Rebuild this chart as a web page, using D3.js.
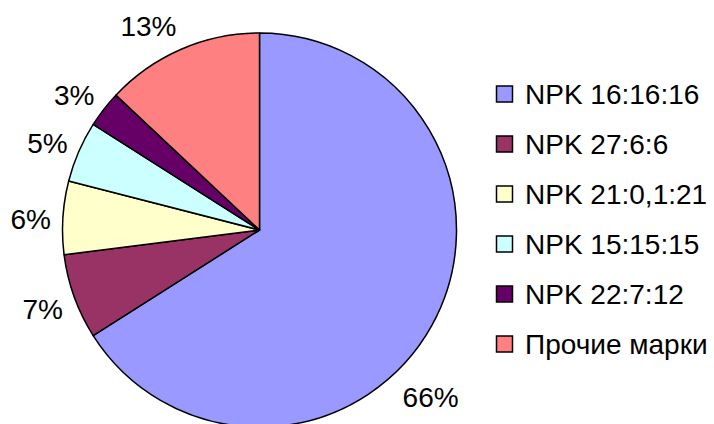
<!DOCTYPE html>
<html>
<head>
<meta charset="utf-8">
<script src="https://cdn.jsdelivr.net/npm/d3@7"></script>
<style>
  body { margin: 0; background: #fff; }
  text { font-family: "Liberation Sans", Arial, sans-serif; fill: #000; }
</style>
</head>
<body>
<div id="chart"></div>
<script>
// brands of NPK fertiliser and their share
var brands = ["NPK 16:16:16", "NPK 27:6:6", "NPK 21:0,1:21", "NPK 15:15:15", "NPK 22:7:12", "Прочие марки"];
var shares = [66, 7, 6, 5, 3, 13];
var colors = ["#9999ff", "#993366", "#ffffcc", "#ccffff", "#660066", "#ff8080"];

var width = 714,
    height = 424,
    cx = 259.5, cy = 230,
    radius = 197,
    labelRx = 209,  // horizontal distance of label edge
    labelRy = 225;  // vertical distance of label centre

var svg = d3.select("#chart").append("svg")
    .attr("width", width)
    .attr("height", height);

var pie = d3.pie().sort(null).value(function(d) { return d; });
var arcs = pie(shares);

var arc = d3.arc().innerRadius(0).outerRadius(radius);

var g = svg.append("g")
    .attr("transform", "translate(" + cx + "," + cy + ")");

g.selectAll("path")
    .data(arcs)
  .enter().append("path")
    .attr("d", arc)
    .attr("fill", function(d, i) { return colors[i]; })
    .attr("stroke", "#000")
    .attr("stroke-width", 1.5)
    .attr("stroke-linejoin", "round");

// the big slice label sits lower than its mid angle (moved in the original)
var angleShift = { 0: 18 * Math.PI / 180 };

g.selectAll(".lbl")
    .data(arcs)
  .enter().append("text")
    .attr("class", "lbl")
    .attr("font-size", 28)
    .each(function(d, i) {
      var a = (d.startAngle + d.endAngle) / 2 + (angleShift[i] || 0);
      d3.select(this)
        .attr("x", Math.sin(a) * labelRx)
        .attr("y", -Math.cos(a) * labelRy + 3)
        .attr("dy", "0.35em")
        .attr("text-anchor", Math.sin(a) < 0 ? "end" : "start");
    })
    .text(function(d) { return d.data + "%"; });

// legend
var legend = svg.append("g")
    .attr("transform", "translate(496,0)");

var ly = d3.scalePoint()
    .domain(brands)
    .range([94, 344]);

var item = legend.selectAll(".item")
    .data(brands)
  .enter().append("g")
    .attr("class", "item")
    .attr("transform", function(d) { return "translate(0," + ly(d) + ")"; });

item.append("rect")
    .attr("x", 0.5)
    .attr("y", -8)
    .attr("width", 16)
    .attr("height", 16)
    .attr("fill", function(d, i) { return colors[i]; })
    .attr("stroke", "#000")
    .attr("stroke-width", 1.5);

item.append("text")
    .attr("x", 29)
    .attr("y", 0)
    .attr("dy", "0.35em")
    .attr("font-size", 28)
    .text(function(d) { return d; });
</script>
</body>
</html>
